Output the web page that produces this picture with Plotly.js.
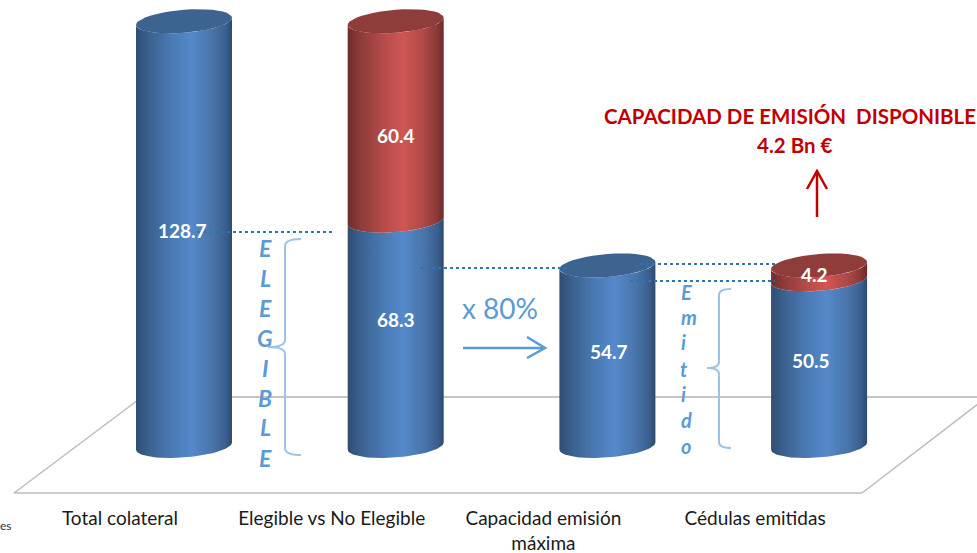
<!DOCTYPE html>
<html>
<head>
<meta charset="utf-8">
<script src="https://cdn.plot.ly/plotly-3.0.1.min.js"></script>
<style>html,body{margin:0;padding:0;background:#fff}#chart{width:977px;height:553px}</style>
</head>
<body>
<div id="chart"></div>
<script>
// ---------- data ----------
var categories = ['Total colateral', 'Elegible vs No Elegible', 'Capacidad emisión<br>máxima', 'Cédulas emitidas'];
var blueValues = [128.7, 68.3, 54.7, 50.5];
var redValues = [null, 60.4, null, 4.2];
var redCallout = 'CAPACIDAD DE EMISIÓN\u00a0\u00a0DISPONIBLE';
var redCalloutValue = '4.2 Bn €';
var multiplierLabel = 'x 80%';
var elegibleLetters = ['E', 'L', 'E', 'G', 'I', 'B', 'L', 'E'];
var emitidoLetters = ['E', 'm', 'i', 't', 'i', 'd', 'o'];

// ---------- page geometry ----------
var W = 977, H = 553, marginB = 48, plotH = H - marginB;
var pxPerCat = 211.7, pxPerVal = 3.3, zeroPx = 446, firstTickPx = 120;
var xMin = -firstTickPx / pxPerCat, xMax = xMin + W / pxPerCat;
var yMax = zeroPx / pxPerVal, yMin = yMax - plotH / pxPerVal;
function fx(p) { return p / W; }
function fy(p) { return 1 - p / plotH; }

// the 3D cylinders sit behind and to the right of their tick labels
var depthShift = 64 / pxPerCat;
var radiusX = 48 / pxPerCat, radiusY = 11.5 / pxPerVal, tilt = 3.6 / pxPerVal;

var blueSide = [[0, '#2f4d75'], [0.14, '#3c628f'], [0.38, '#4a7bb5'], [0.58, '#5589cb'], [0.8, '#4874a8'], [0.93, '#3b6090'], [1, '#2e4a6e']];
var redSide = [[0, '#6f2c2b'], [0.14, '#8f3c3a'], [0.38, '#b54c4a'], [0.58, '#cf5654'], [0.8, '#ad4846'], [0.93, '#8a3a38'], [1, '#6a2a29']];
var blueCap = '#3d6490', redCap = '#8f3d3a';

function arc(cat, val, from, to) {
  var xs = [], ys = [], n = 40;
  for (var i = 0; i <= n; i++) {
    var t = from + (to - from) * i / n;
    xs.push(cat + depthShift + radiusX * Math.cos(t));
    ys.push(val - radiusY * Math.sin(t) + tilt * Math.cos(t));
  }
  return { x: xs, y: ys };
}
function sideTrace(cat, v0, v1, scale, name) {
  var low = arc(cat, v0, Math.PI, 0), high = arc(cat, v1, 0, Math.PI);
  return {
    type: 'scatter', mode: 'lines', name: name, showlegend: false, hoverinfo: 'skip',
    x: low.x.concat(high.x), y: low.y.concat(high.y),
    fill: 'toself', line: { width: 0, color: 'rgba(0,0,0,0)' },
    fillcolor: scale[3][1],
    fillgradient: { type: 'horizontal', colorscale: scale }
  };
}
function capTrace(cat, v, color, name) {
  var e = arc(cat, v, 0, 2 * Math.PI);
  return {
    type: 'scatter', mode: 'lines', name: name, showlegend: false, hoverinfo: 'skip',
    x: e.x, y: e.y, fill: 'toself', fillcolor: color, line: { width: 0, color: 'rgba(0,0,0,0)' }
  };
}

var traces = [];
categories.forEach(function (c, i) {
  var top = blueValues[i] + (redValues[i] || 0);
  traces.push(sideTrace(i, 0, blueValues[i], blueSide, c));
  if (redValues[i] !== null) traces.push(sideTrace(i, blueValues[i], top, redSide, c));
  traces.push(capTrace(i, top, redValues[i] !== null ? redCap : blueCap, c));
});

// ---------- text ----------
function note(text, x, y, size, color, extra) {
  var a = { text: text, xref: 'paper', yref: 'paper', x: fx(x), y: fy(y), xanchor: 'center', yanchor: 'middle',
    showarrow: false, font: { family: 'Lato, sans-serif', size: size, color: color } };
  for (var k in extra || {}) a[k] = extra[k];
  return a;
}
function bold(t) { return '<b>' + t + '</b>'; }
var white = '#ffffff', letterBlue = '#5b9bd5', darkRed = '#c00000';
var annotations = [
  note(bold(blueValues[0].toFixed(1)), 182, 231, 19, white),
  note(bold(redValues[1].toFixed(1)), 396, 135, 19, white),
  note(bold(blueValues[1].toFixed(1)), 396, 319, 19, white),
  note(bold(blueValues[2].toFixed(1)), 609, 351, 19, white),
  note(bold(blueValues[3].toFixed(1)), 811, 360, 19, white),
  note(bold(redValues[3].toFixed(1)), 814, 274, 19, white),
  note(bold(redCallout), 789.5, 116, 20.5, darkRed),
  note(bold(redCalloutValue), 794, 145, 20.5, darkRed),
  note(multiplierLabel, 500, 308, 28, letterBlue),
  note('es', 6, 525, 12, '#333333')
];
var elegibleY = [248, 278, 308, 338, 368, 398, 427, 458];
elegibleLetters.forEach(function (l, i) {
  annotations.push(note('<b><i>' + l + '</i></b>', 265, elegibleY[i], 23, letterBlue));
});
var emitidoX = [686, 689, 683, 684, 683, 686, 686], emitidoY = [292, 317, 342, 369, 394, 420, 446];
emitidoLetters.forEach(function (l, i) {
  annotations.push(note('<b><i>' + l + '</i></b>', emitidoX[i], emitidoY[i], 20, letterBlue));
});

// ---------- decoration ----------
function pathOf(cmds) {
  return cmds.map(function (c) {
    if (c.length === 3) return c[0] + fx(c[1]) + ',' + fy(c[2]);
    return c[0] + fx(c[1]) + ',' + fy(c[2]) + ' ' + fx(c[3]) + ',' + fy(c[4]);
  }).join(' ');
}
function pathShape(cmds, color, width, layer, dash) {
  return { type: 'path', xref: 'paper', yref: 'paper', path: pathOf(cmds), layer: layer || 'above',
    line: { color: color, width: width, dash: dash || 'solid' } };
}
function seg(x0, y0, x1, y1, color, width, layer, dash) {
  return pathShape([['M', x0, y0], ['L', x1, y1]], color, width, layer, dash);
}
var dotted = '#2f75b5', floorFront = '#bdbdbd', floorBack = '#8e8e8e', brace = '#9dc3e6';
var shapes = [
  seg(14, 493, 862, 493, floorFront, 1.5, 'below'),
  seg(14, 493, 142, 397, floorFront, 1.5, 'below'),
  seg(862, 493, 987, 397, floorFront, 1.5, 'below'),
  seg(142, 397, 987, 397, floorBack, 1.2, 'below'),
  seg(197, 232, 335, 232, dotted, 2, 'above', 'dot'),
  seg(420, 268, 570, 268, dotted, 2, 'above', 'dot'),
  seg(640, 264, 775, 264, dotted, 2, 'above', 'dot'),
  seg(630, 281, 775, 281, dotted, 2, 'above', 'dot'),
  pathShape([['M', 301, 239], ['Q', 285, 239, 285, 246], ['L', 285, 340], ['Q', 285, 347, 268, 347], ['Q', 285, 347, 285, 354], ['L', 285, 448], ['Q', 285, 455, 301, 455]], brace, 2),
  pathShape([['M', 731, 289], ['Q', 719, 289, 719, 295], ['L', 719, 362], ['Q', 719, 368, 707, 368], ['Q', 719, 368, 719, 374], ['L', 719, 442], ['Q', 719, 448, 731, 448]], brace, 2),
  seg(463, 348, 545, 348, letterBlue, 2.5),
  pathShape([['M', 527, 337], ['L', 545, 348], ['L', 527, 358]], letterBlue, 2.5),
  seg(817, 217, 817, 171, darkRed, 2.5),
  pathShape([['M', 807, 189], ['L', 817, 171], ['L', 827, 189]], darkRed, 2.5)
];

var layout = {
  width: W, height: H,
  margin: { l: 0, r: 0, t: 0, b: marginB, pad: 0 },
  paper_bgcolor: '#ffffff', plot_bgcolor: 'rgba(0,0,0,0)',
  showlegend: false,
  xaxis: { type: 'linear', range: [xMin, xMax], tickmode: 'array', tickvals: [0, 1, 2, 3], ticktext: categories,
    showgrid: false, zeroline: false, showline: false, ticks: '', ticklen: 0,
    tickfont: { family: 'Lato, sans-serif', size: 19, color: '#1a1a1a' }, fixedrange: true },
  yaxis: { range: [yMin, yMax], visible: false, showgrid: false, zeroline: false, fixedrange: true },
  annotations: annotations,
  shapes: shapes
};
Plotly.newPlot('chart', traces, layout, { displayModeBar: false, staticPlot: true });
</script>
</body>
</html>
